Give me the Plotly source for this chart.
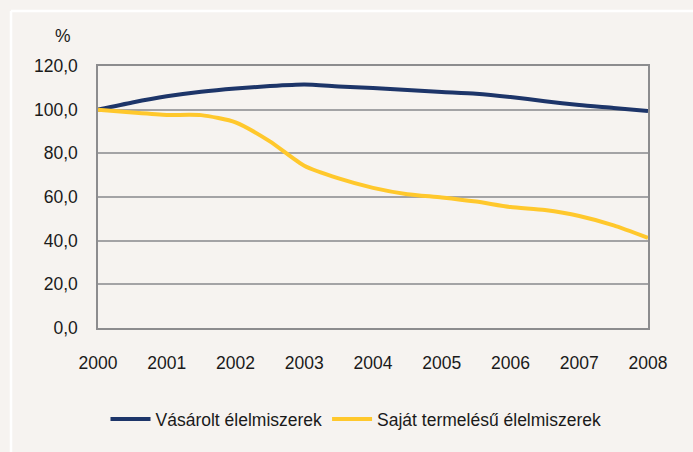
import plotly.graph_objects as go

years = [2000, 2000.5, 2001, 2001.5, 2002, 2002.5, 2003, 2003.5, 2004,
         2004.5, 2005, 2005.5, 2006, 2006.5, 2007, 2007.5, 2008]
vasarolt = [100.0, 103.3, 106.1, 108.2, 109.7, 110.8, 111.5, 110.6, 109.9,
            109.0, 108.1, 107.3, 105.8, 103.9, 102.1, 100.8, 99.4]
sajat = [100.0, 98.7, 97.6, 97.5, 94.2, 85.5, 74.3, 68.5, 64.2,
         61.3, 59.8, 57.9, 55.4, 54.0, 51.3, 47.0, 41.3]
series_names = ["Vásárolt élelmiszerek", "Saját termelésű élelmiszerek"]
x_ticks = [2000, 2001, 2002, 2003, 2004, 2005, 2006, 2007, 2008]
y_ticks = [0, 20, 40, 60, 80, 100, 120]
y_labels = ["0,0", "20,0", "40,0", "60,0", "80,0", "100,0", "120,0"]

BG = "#f6f3f0"
FONT = "Liberation Sans, Arial, sans-serif"
FS = 17.5
TXT = "#1a1a1a"

fig = go.Figure()
fig.add_trace(go.Scatter(x=years, y=vasarolt, name=series_names[0], mode="lines",
                         line=dict(color="#1d3569", width=4, shape="spline", smoothing=0.6)))
fig.add_trace(go.Scatter(x=years, y=sajat, name=series_names[1], mode="lines",
                         line=dict(color="#ffc82c", width=4, shape="spline", smoothing=0.6)))

W, H = 693, 452
L, R, T, B = 98, 45, 66, 124
PW, PH = W - L - R, H - T - B


def px(x):
    return (x - L) / PW


def py(y):
    return (H - B - y) / PH


fig.update_layout(
    width=W, height=H,
    margin=dict(l=L, r=R, t=T, b=B, autoexpand=False),
    paper_bgcolor=BG, plot_bgcolor=BG,
    font=dict(family=FONT, size=FS, color=TXT),
    showlegend=True,
    legend=dict(orientation="h", x=px(356), xanchor="center", y=py(419), yanchor="middle",
                font=dict(size=FS, family=FONT, color=TXT), bgcolor="rgba(0,0,0,0)",
                itemwidth=40, tracegroupgap=0),
    xaxis=dict(range=[2000, 2008], tickvals=x_ticks, ticktext=[str(v) for v in x_ticks],
               showgrid=False, zeroline=False, showline=True, linecolor="#8c8c8e",
               linewidth=1.5, mirror=True, ticks="", ticklabelstandoff=18, automargin=False,
               tickfont=dict(size=FS, family=FONT, color=TXT), fixedrange=True),
    yaxis=dict(range=[0, 120], tickvals=y_ticks, ticktext=y_labels,
               showgrid=True, gridcolor="#a3a3a5", gridwidth=1.5,
               zeroline=False, showline=True, linecolor="#8c8c8e", linewidth=1.5,
               mirror=True, ticks="", ticklabelstandoff=15, automargin=False,
               tickfont=dict(size=FS, family=FONT, color=TXT), fixedrange=True),
    annotations=[dict(text="%", xref="paper", yref="paper", x=px(63), y=py(36),
                      xanchor="center", yanchor="middle", showarrow=False,
                      font=dict(size=FS, family=FONT, color=TXT))],
    shapes=[
        dict(type="line", xref="paper", yref="paper", x0=px(11), x1=px(W + 5),
             y0=py(11), y1=py(11), line=dict(color="#ffffff", width=2.5), layer="below"),
        dict(type="line", xref="paper", yref="paper", x0=px(11), x1=px(11),
             y0=py(11), y1=py(H + 5), line=dict(color="#ffffff", width=2.5), layer="below"),
    ],
)

fig.write_html("out.html", config={"displayModeBar": False},
               post_script="document.body.style.margin='0';document.body.style.padding='0';")
